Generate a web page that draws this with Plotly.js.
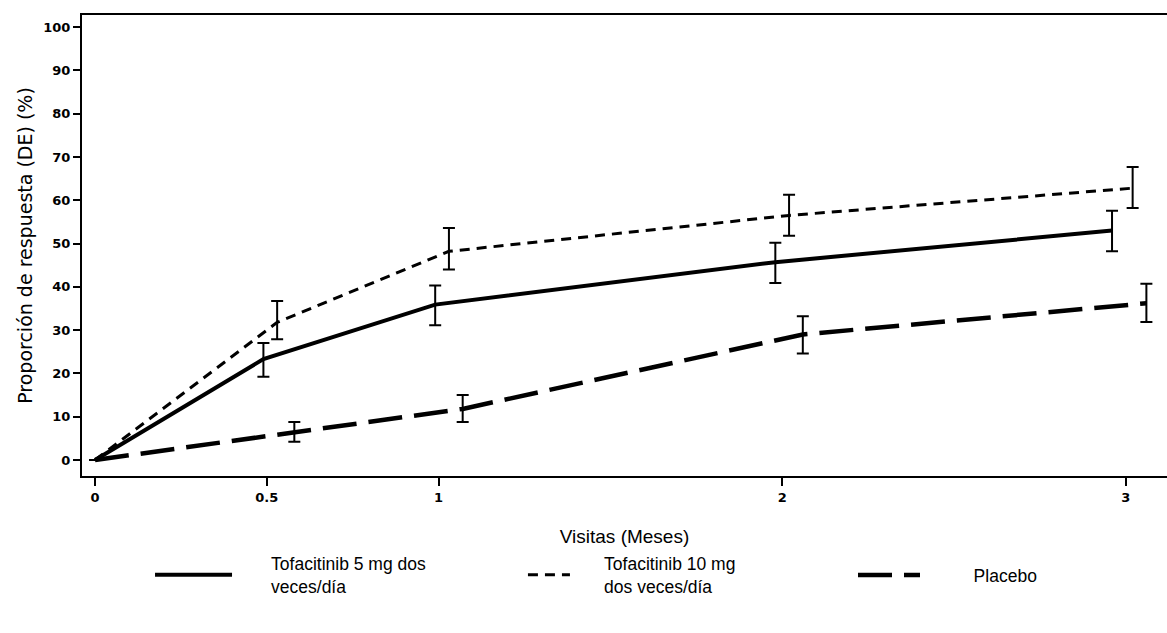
<!DOCTYPE html>
<html>
<head>
<meta charset="utf-8">
<script src="https://cdn.plot.ly/plotly-3.0.1.min.js"></script>
<style>html,body{margin:0;padding:0;background:#fff;}#chart{width:1167px;height:633px;}</style>
</head>
<body>
<div id="chart"></div>
<script>
// Visit months (tick labels)
const tickValues = [0, 0.5, 1, 2, 3];
const tickLabels = ['0', '0.5', '1', '2', '3'];

// Tofacitinib 5 mg (solid)
const x5 = [0, 0.49, 0.99, 1.98, 2.96];
const y5 = [0, 23.3, 35.9, 45.7, 53.0];
const up5 = [0, 3.7, 4.4, 4.5, 4.6];
const dn5 = [0, 4.1, 4.8, 4.8, 4.8];

// Tofacitinib 10 mg (short dash)
const x10 = [0, 0.53, 1.03, 2.02, 3.02];
const y10 = [0, 31.8, 48.2, 56.5, 62.8];
const up10 = [0, 4.9, 5.4, 4.8, 4.9];
const dn10 = [0, 3.9, 4.2, 4.7, 4.6];

// Placebo (long dash)
const xP = [0, 0.58, 1.07, 2.06, 3.06];
const yP = [0, 6.5, 11.8, 29.0, 36.2];
const upP = [0, 2.3, 3.2, 4.2, 4.5];
const dnP = [0, 2.3, 3.0, 4.4, 4.3];

const names = [
  ['Tofacitinib 5 mg dos', 'veces/día'],
  ['Tofacitinib 10 mg', 'dos veces/día'],
  ['Placebo']
];
const pads = [7, 6, 10];

function legendName(lines, n) {
  const sp = '\u00a0'.repeat(n);
  return lines.map(l => sp + l).join('<br>');
}

function errs(up, dn) {
  return {type: 'data', symmetric: false, array: up, arrayminus: dn,
          color: '#000', thickness: 2, width: 6};
}

const traces = [
  {x: x5, y: y5, name: legendName(names[0], pads[0]), legend: 'legend', mode: 'lines', type: 'scatter',
   line: {color: '#000', width: 4, dash: 'solid'}, error_y: errs(up5, dn5)},
  {x: x10, y: y10, name: legendName(names[1], pads[1]), legend: 'legend2', mode: 'lines', type: 'scatter',
   line: {color: '#000', width: 3, dash: '10px,7px'}, error_y: errs(up10, dn10)},
  {x: xP, y: yP, name: legendName(names[2], pads[2]), legend: 'legend3', mode: 'lines', type: 'scatter',
   line: {color: '#000', width: 4.5, dash: '34px,12px'}, error_y: errs(upP, dnP)}
];

const legFont = {size: 17.5, family: 'Liberation Sans, Arial', color: '#000'};
function leg(x, w) {
  return {orientation: 'h', x: x, xanchor: 'left', y: -0.215, yanchor: 'middle',
          font: legFont, itemwidth: w, bgcolor: 'rgba(0,0,0,0)'};
}

const layout = {
  width: 1167, height: 633,
  margin: {l: 82, r: 0, t: 15, b: 157},
  paper_bgcolor: '#fff', plot_bgcolor: '#fff',
  showlegend: true,
  font: {family: 'Liberation Sans, Arial, sans-serif', color: '#000'},
  xaxis: {
    range: [-0.038, 3.12],
    tickmode: 'array', tickvals: tickValues, ticktext: tickLabels,
    ticks: 'outside', ticklen: 8, tickwidth: 2, tickcolor: '#000',
    showline: true, linecolor: '#000', linewidth: 2, mirror: true,
    showgrid: false, zeroline: false,
    tickfont: {size: 13, family: 'DejaVu Sans', weight: 'bold', color: '#000'},
    title: {text: 'Visitas (Meses)', font: {size: 19, family: 'Liberation Sans, Arial'}, standoff: 26}
  },
  yaxis: {
    range: [-3.7, 102.8],
    tickmode: 'linear', tick0: 0, dtick: 10,
    ticks: 'outside', ticklen: 7, tickwidth: 2, tickcolor: '#000',
    showline: true, linecolor: '#000', linewidth: 2,
    showgrid: false, zeroline: false,
    tickfont: {size: 13, family: 'DejaVu Sans', weight: 'bold', color: '#000'},
    title: {text: 'Proporción de respuesta (DE) (%)\u00a0\u00a0\u00a0\u00a0', font: {size: 19, family: 'DejaVu Sans'}, standoff: 6}
  },
  legend: leg(0.0627, 77),
  legend2: leg(0.4064, 42),
  legend3: leg(0.7106, 62)
};

Plotly.newPlot('chart', traces, layout, {displayModeBar: false, staticPlot: true});
</script>
</body>
</html>
